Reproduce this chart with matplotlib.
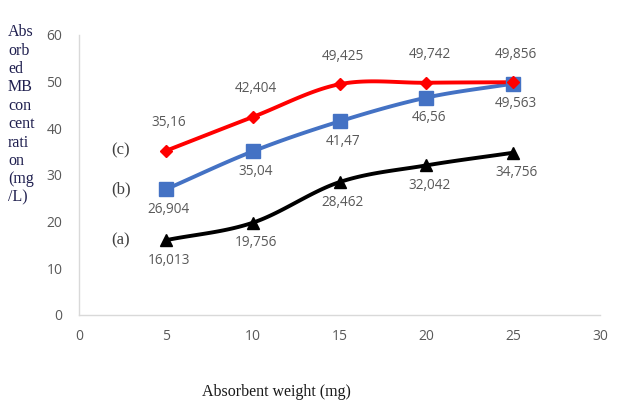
import numpy as np
import matplotlib
matplotlib.use("Agg")
import matplotlib.pyplot as plt

# Absorbent weight (mg) and absorbed MB concentration (mg/L)
weights = [5, 10, 15, 20, 25]
series_a = [16.013, 19.756, 28.462, 32.042, 34.756]
series_b = [26.904, 35.04, 41.47, 46.56, 49.563]
series_c = [35.16, 42.404, 49.425, 49.742, 49.856]
labels_a = ["16,013", "19,756", "28,462", "32,042", "34,756"]
labels_b = ["26,904", "35,04", "41,47", "46,56", "49,563"]
labels_c = ["35,16", "42,404", "49,425", "49,742", "49,856"]
x_ticks = [0, 5, 10, 15, 20, 25, 30]
y_ticks = [0, 10, 20, 30, 40, 50, 60]


def smooth(xs, ys, n=30):
    """Catmull-Rom curve through the points (spreadsheet-style smoothed line)."""
    p = np.column_stack([xs, ys]).astype(float)
    p = np.vstack([p[0] - (p[1] - p[0]), p, p[-1] + (p[-1] - p[-2])])
    out = []
    for i in range(1, len(p) - 2):
        p0, p1, p2, p3 = p[i - 1], p[i], p[i + 1], p[i + 2]
        t = np.linspace(0, 1, n, endpoint=(i == len(p) - 3))[:, None]
        c = 0.5 * ((2 * p1) + (-p0 + p2) * t + (2 * p0 - 5 * p1 + 4 * p2 - p3) * t ** 2
                   + (-p0 + 3 * p1 - 3 * p2 + p3) * t ** 3)
        out.append(c)
    c = np.vstack(out)
    return c[:, 0], c[:, 1]


fig = plt.figure(figsize=(6.22, 4.03), dpi=100)
ax = fig.add_axes([0.1270, 0.2185, 0.8380, 0.6950])

tick_font = "Open Sans"
serif = "Liberation Serif"
grey = "#595959"

series = [
    (series_a, labels_a, "#000000", "^", 9, -20, "(a)"),
    (series_b, labels_b, "#4472c4", "s", 10, -20, "(b)"),
    (series_c, labels_c, "#ff0000", "D", 6.5, 28, "(c)"),
]

for ys, labs, col, mk, ms, dy, tag in series:
    sx, sy = smooth(weights, ys)
    ax.plot(sx, sy, color=col, lw=2.8, solid_capstyle="round", zorder=3)
    ax.plot(weights, ys, linestyle="none", marker=mk, ms=ms, color=col,
            markeredgecolor=col, zorder=4)
    for xv, yv, lab in zip(weights, ys, labs):
        ax.annotate(lab, (xv, yv), xytext=(3, dy), textcoords="offset pixels",
                    ha="center", va="center", fontsize=9.8, color=grey,
                    family=tick_font)
    ax.annotate(tag, (weights[0], ys[0]), xytext=(-45, 0),
                textcoords="offset pixels", ha="center", va="center",
                fontsize=12, color="#404040", family=serif)

ax.set_xlim(0, 30)
ax.set_ylim(0, 60)
ax.set_xticks(x_ticks)
ax.set_yticks(y_ticks)
ax.tick_params(length=0, labelsize=10, labelcolor=grey, pad=10)
for lab in ax.get_xticklabels() + ax.get_yticklabels():
    lab.set_family(tick_font)
ax.tick_params(axis="y", pad=12)

for side in ("top", "right"):
    ax.spines[side].set_visible(False)
for side in ("left", "bottom"):
    ax.spines[side].set_color("#d9d9d9")
    ax.spines[side].set_linewidth(1.0)

fig.text(0.445, 0.027, "Absorbent weight (mg)", ha="center", va="center",
         fontsize=11.5, color="#1a1a1a", family=serif)

fig.text(0.013, 0.94, "Abs\norb\ned\nMB\ncon\ncent\nrati\non\n(mg\n/L)",
         ha="left", va="top", fontsize=11.5, color="#1f1f4f", family=serif,
         linespacing=1.2)

fig.savefig("out.png", dpi=100)
